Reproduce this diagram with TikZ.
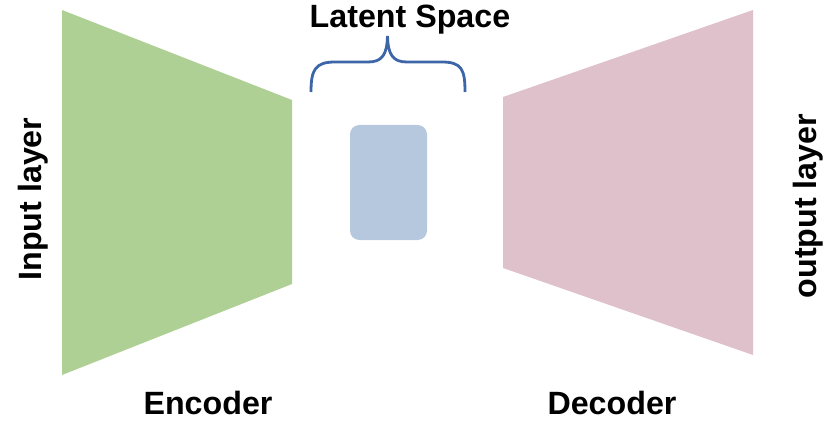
\documentclass[tikz,border=0pt]{standalone}
\usepackage{fontspec}
\setmainfont{Liberation Sans}
\usetikzlibrary{positioning}
\definecolor{encgreen}{HTML}{AFD095}
\definecolor{decpink}{HTML}{DFC1CB}
\definecolor{latblue}{HTML}{B5C8DD}
\definecolor{braceblue}{HTML}{3D66A8}
\tikzstyle{label} = [font=\fontsize{27.5}{33}\selectfont\bfseries, inner sep=0pt]
\tikzstyle{latent} = [rectangle, rounded corners=8pt,
minimum width=2.31cm,
minimum height=3.45cm,
fill=latblue]
\tikzstyle{bracket} = [draw=braceblue, line width=2.4pt]

\begin{document}
\begin{tikzpicture}[x=0.03cm, y=-0.03cm]
		\useasboundingbox (0,0) rectangle (835,421);
		
		% encoder / decoder blocks
		\fill[encgreen] (62,10) -- (292,100) -- (292,284) -- (62,375) -- cycle;
		\fill[decpink] (503,97) -- (753,10) -- (753,355) -- (503,268) -- cycle;
		
		\node (z) [latent] at (388.5,182.5) {};
		
		\node (ls) [label] at (410,20) {Latent Space};
		\node (enc) [label] at (208,403) {Encoder};
		\node (dec) [label] at (612,403) {Decoder};
		\node (inp) [label, rotate=90] at (33,199) {Input layer};
		\node (outp) [label, rotate=90] at (808,206) {output layer};
		
		% brace
		\draw[bracket] (311,92) .. controls (311,70) and (315,62) .. (335,62)
			-- (368,62) .. controls (382,62) and (387,55) .. (387.5,36)
			.. controls (388,55) and (393,62) .. (407,62)
			-- (442,62) .. controls (462,62) and (465,70) .. (465,92);
		
	\end{tikzpicture}
\end{document}
